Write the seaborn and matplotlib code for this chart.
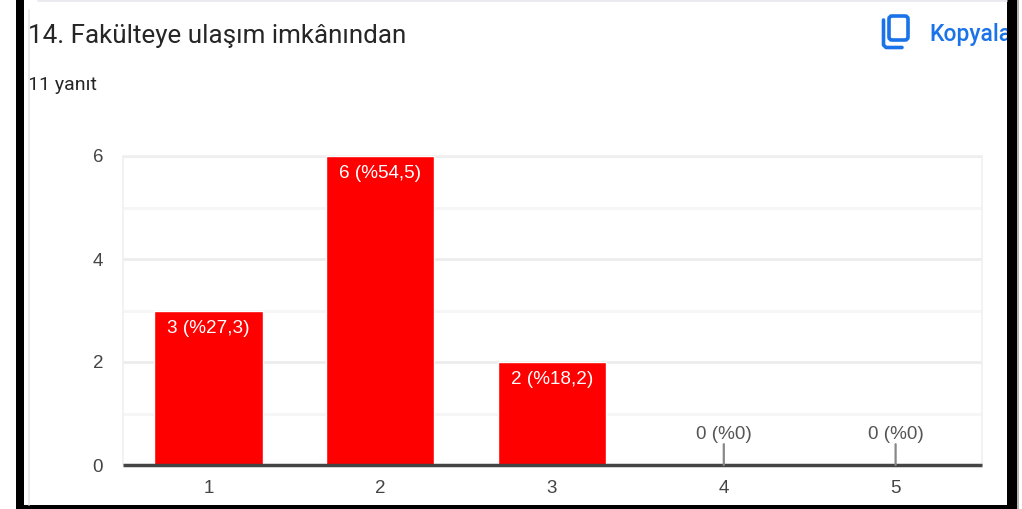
import matplotlib
matplotlib.use("Agg")
import matplotlib.pyplot as plt
from matplotlib.lines import Line2D
from matplotlib.patches import FancyBboxPatch, Rectangle
import pandas as pd
import seaborn as sns

# === Data ===
categories = ["1", "2", "3", "4", "5"]
counts = [3, 6, 2, 0, 0]
bar_labels = ["3 (%27,3)", "6 (%54,5)", "2 (%18,2)", "0 (%0)", "0 (%0)"]
y_ticks = [0, 2, 4, 6]
minor_ticks = [1, 3, 5]
title = "14. Fakülteye ulaşım imkânından"
subtitle = "11 yanıt"
copy_label = "Kopyala"

df = pd.DataFrame({"option": categories, "count": counts})

W, H = 1022, 509
sns.set_theme(style="white")
plt.rcParams["font.family"] = ["Roboto", "DejaVu Sans"]
chart_font = "Liberation Sans"

fig = plt.figure(figsize=(W / 100, H / 100), dpi=100, facecolor="white")


# pixel box -> figure coords
def px(x, y):
    return x / W, 1 - y / H


left, top = px(122.5, 156)
right, bottom = px(981.5, 465)
ax = fig.add_axes([left, bottom, right - left, top - bottom])

# === Bars ===
sns.barplot(data=df, x="option", y="count", color="#ff0000", saturation=1,
            width=0.63, ax=ax, zorder=3)
ax.set_xlim(-0.5, 4.5)
ax.set_ylim(0, 6)
ax.set_xlabel("")
ax.set_ylabel("")
ax.set_yticks(y_ticks)
ax.set_yticks(minor_ticks, minor=True)
ax.grid(True, which="major", axis="y", color="#ececec", lw=2, zorder=0)
ax.grid(True, which="minor", axis="y", color="#f6f6f6", lw=2, zorder=0)
ax.tick_params(axis="both", which="both", length=0)
ax.tick_params(axis="x", labelsize=13.5, labelcolor="#444444", pad=11)
ax.tick_params(axis="y", labelsize=13.5, labelcolor="#444444", pad=14)
for lab in ax.get_xticklabels() + ax.get_yticklabels():
    lab.set_fontfamily(chart_font)
for s in ["top", "right", "left"]:
    ax.spines[s].set_color("#f0f0f0")
    ax.spines[s].set_linewidth(1.2)
ax.spines["bottom"].set_color("#444444")
ax.spines["bottom"].set_linewidth(2.5)
ax.spines["bottom"].set_capstyle("butt")
ax.spines["bottom"].set_zorder(5)

# === Bar labels ===
for i, (c, lab) in enumerate(zip(counts, bar_labels)):
    if c > 0:
        ax.annotate(lab, (i, c), xytext=(0, -6.5), textcoords="offset points",
                    ha="center", va="top", color="white", fontsize=13.6,
                    family=chart_font, zorder=6)
    else:
        ax.annotate(lab, (i, c), xytext=(0, 22), textcoords="offset points",
                    ha="center", va="center", color="#555555", fontsize=13.6,
                    family=chart_font, zorder=6)
        ax.annotate("", (i, c), xytext=(0, 15), textcoords="offset points",
                    arrowprops=dict(arrowstyle="-", color="#888888", lw=1.6,
                                    shrinkA=0, shrinkB=0), zorder=6)

# === Page furniture ===
tx, ty = px(28, 36)
fig.text(tx, ty, title, fontsize=18.7, color="#262626", ha="left", va="center")
tx, ty = px(28, 85)
fig.text(tx, ty, subtitle, fontsize=14, color="#262626", ha="left", va="center")
tx, ty = px(929, 34)
fig.text(tx, ty, copy_label, fontsize=16.5, color="#1a73e8", ha="left", va="center",
         fontweight="medium")

# copy icon
overlay = fig.add_axes([0, 0, 1, 1], facecolor="none", zorder=10)
overlay.set_xlim(0, W)
overlay.set_ylim(H, 0)
overlay.axis("off")
overlay.add_patch(FancyBboxPatch((889, 16), 19, 24, boxstyle="round,pad=0,rounding_size=3",
                                 fill=False, ec="#1a73e8", lw=2.6))
overlay.add_line(Line2D([883.5, 883.5, 886, 902], [20, 45, 47.5, 47.5], color="#1a73e8", lw=2.6))

# card outline
overlay.add_line(Line2D([28.5, 28.5], [505, 10], color="#e6e6ec", lw=1.2))
overlay.add_line(Line2D([38, 1007], [0.5, 0.5], color="#e6e6ec", lw=1.2))

# screenshot frame
overlay.add_patch(Rectangle((16, 0), 8, H, color="black", lw=0))
overlay.add_patch(Rectangle((1007, 0), 10, H, color="black", lw=0))
overlay.add_patch(Rectangle((1017, 0), 2, H, color="#b5b5b5", lw=0))
overlay.add_patch(Rectangle((16, 505), 1001, 4, color="black", lw=0))

fig.savefig("out.png", dpi=100, facecolor="white")
